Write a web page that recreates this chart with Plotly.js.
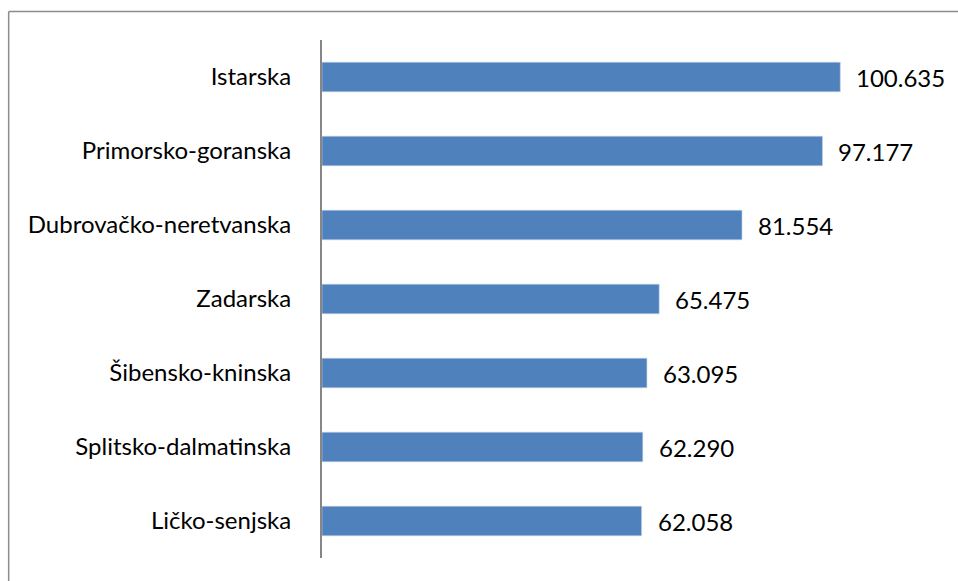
<!DOCTYPE html>
<html>
<head>
<meta charset="utf-8">
<script src="https://cdn.plot.ly/plotly-3.0.1.min.js"></script>
<style>html,body{margin:0;padding:0;background:#fff;}#chart{width:958px;height:581px;}</style>
</head>
<body>
<div id="chart"></div>
<script>
var categories = ["Ličko-senjska", "Splitsko-dalmatinska", "Šibensko-kninska", "Zadarska", "Dubrovačko-neretvanska", "Primorsko-goranska", "Istarska"];
var values = [62058, 62290, 63095, 65475, 81554, 97177, 100635];
var labelTexts = ["62.058", "62.290", "63.095", "65.475", "81.554", "97.177", "100.635"];

var FONT = "Lato, 'Open Sans', sans-serif";

var trace = {
  type: "bar",
  orientation: "h",
  x: values,
  y: categories,
  marker: {color: "#4F81BD", line: {color: "#C5D4E8", width: 0.6}},
  width: 0.4,
  hoverinfo: "x+y"
};

var annotations = categories.map(function (c, i) {
  return {
    x: values[i], y: c, xref: "x", yref: "y",
    text: labelTexts[i], showarrow: false,
    xanchor: "left", yanchor: "middle", xshift: 14,
    font: {family: FONT, size: 24, color: "#000"}
  };
});

var layout = {
  width: 958, height: 581,
  margin: {l: 322, r: 18, t: 40, b: 23, pad: 0},
  paper_bgcolor: "#fff", plot_bgcolor: "#fff",
  showlegend: false,
  xaxis: {range: [0, 120000], visible: false, fixedrange: true},
  yaxis: {
    type: "category", range: [-0.5, 6.5], automargin: false,
    showline: true, linecolor: "#868686", linewidth: 2,
    showgrid: false, zeroline: false, ticks: "",
    ticklabelstandoff: 24,
    tickfont: {family: FONT, size: 24, color: "#000"}
  },
  annotations: annotations,
  shapes: [
    {type: "line", xref: "paper", yref: "paper", x0: -0.507, x1: 1.1, y0: 1.0550, y1: 1.0550, line: {color: "#8C8C8C", width: 1.5}},
    {type: "line", xref: "paper", yref: "paper", x0: -0.507, x1: -0.507, y0: 1.0550, y1: -0.1, line: {color: "#8C8C8C", width: 1.5}}
  ]
};

Plotly.newPlot("chart", [trace], layout, {displayModeBar: false, staticPlot: true});
</script>
</body>
</html>
